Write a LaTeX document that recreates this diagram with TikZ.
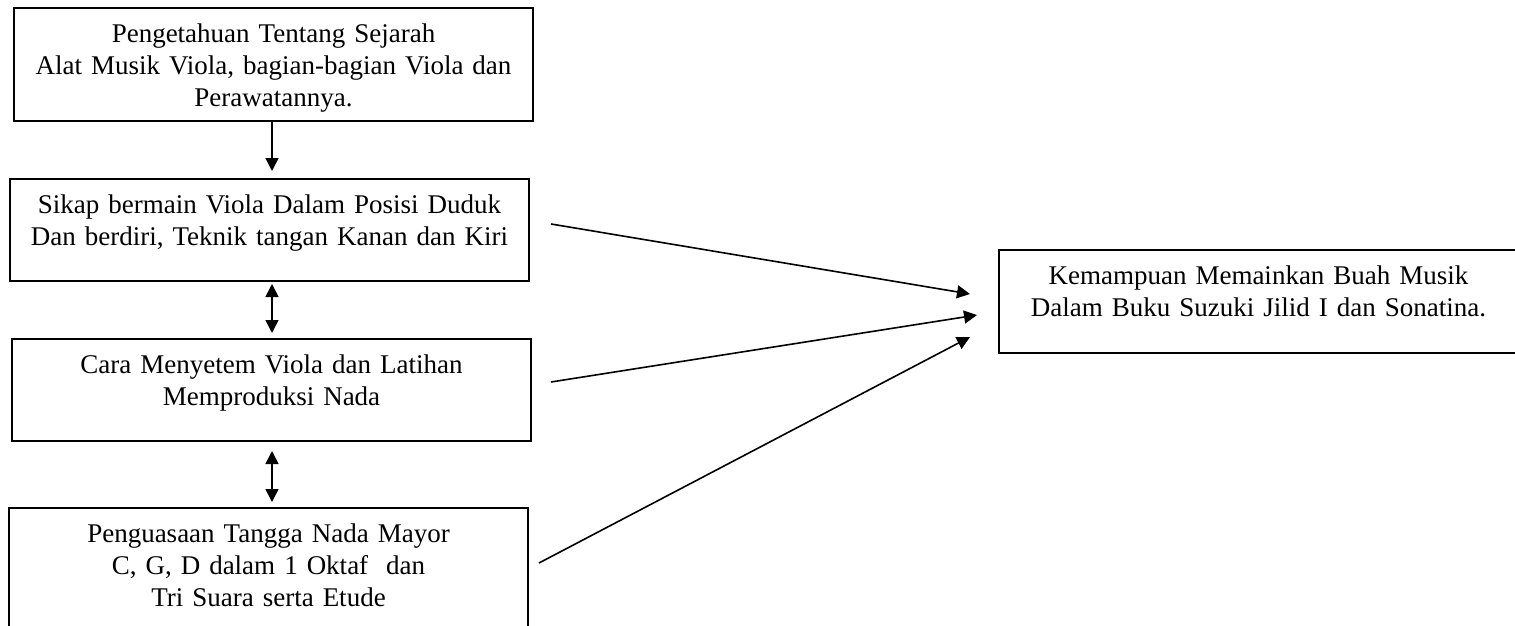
\documentclass[tikz,border=0pt]{standalone}
\usepackage{fontspec}
\setmainfont{Liberation Serif}
\usetikzlibrary{arrows.meta}

\begin{document}
\begin{tikzpicture}[x=0.5pt,y=-0.5pt,
  kotak/.style={draw,line width=1pt,anchor=north,inner sep=0pt,text width=259.5pt,align=center,text height=17.25pt,font=\fontsize{13.5}{16}\selectfont},
  panah/.style={line width=0.8pt,-{Triangle[length=6.5pt,width=6.5pt]}},
  panahdua/.style={line width=0.8pt,{Triangle[length=6.5pt,width=6.5pt]}-{Triangle[length=6.5pt,width=6.5pt]}}]
\clip (0,0) rectangle (1515,626);

\node[kotak,text depth=39.25pt] (sejarah) at (273.5,7) {Pengetahuan Tentang Sejarah\\ Alat Musik Viola, bagian-bagian Viola dan\\ Perawatannya.};
\node[kotak,text depth=33.75pt] (sikap) at (269.5,178) {Sikap bermain Viola Dalam Posisi Duduk\\ Dan berdiri, Teknik tangan Kanan dan Kiri};
\node[kotak,text depth=33.75pt] (menyetem) at (271.5,338) {Cara Menyetem Viola dan Latihan\\ Memproduksi Nada};
\node[kotak,text depth=47.75pt] (tangga) at (268.5,507) {Penguasaan Tangga Nada Mayor\\ C, G, D dalam 1 Oktaf~ dan\\ Tri Suara serta Etude};
\node[kotak,text depth=34.25pt] (kemampuan) at (1258.5,249) {Kemampuan Memainkan Buah Musik\\ Dalam Buku Suzuki Jilid I dan Sonatina.};

\coordinate (sumbu) at (272,0);
\draw[panah,shorten >=3.5pt] (sejarah.south -| sumbu) -- (sikap.north -| sumbu);
\draw[panahdua,shorten <=1pt,shorten >=2.5pt] (sikap.south -| sumbu) -- (menyetem.north -| sumbu);
\draw[panahdua,shorten <=4.5pt,shorten >=2.5pt] (menyetem.south -| sumbu) -- (tangga.north -| sumbu);

\draw[panah] ([xshift=10.5pt,yshift=3pt]sikap.east) -- ([xshift=-14pt,yshift=3.75pt]kemampuan.west);
\draw[panah] ([xshift=9.5pt,yshift=4pt]menyetem.east) -- ([xshift=-10.5pt,yshift=-6.75pt]kemampuan.west);
\draw[panah] ([xshift=5pt,yshift=5pt]tangga.east) -- ([xshift=-14pt,yshift=-17.75pt]kemampuan.west);
\end{tikzpicture}
\end{document}
